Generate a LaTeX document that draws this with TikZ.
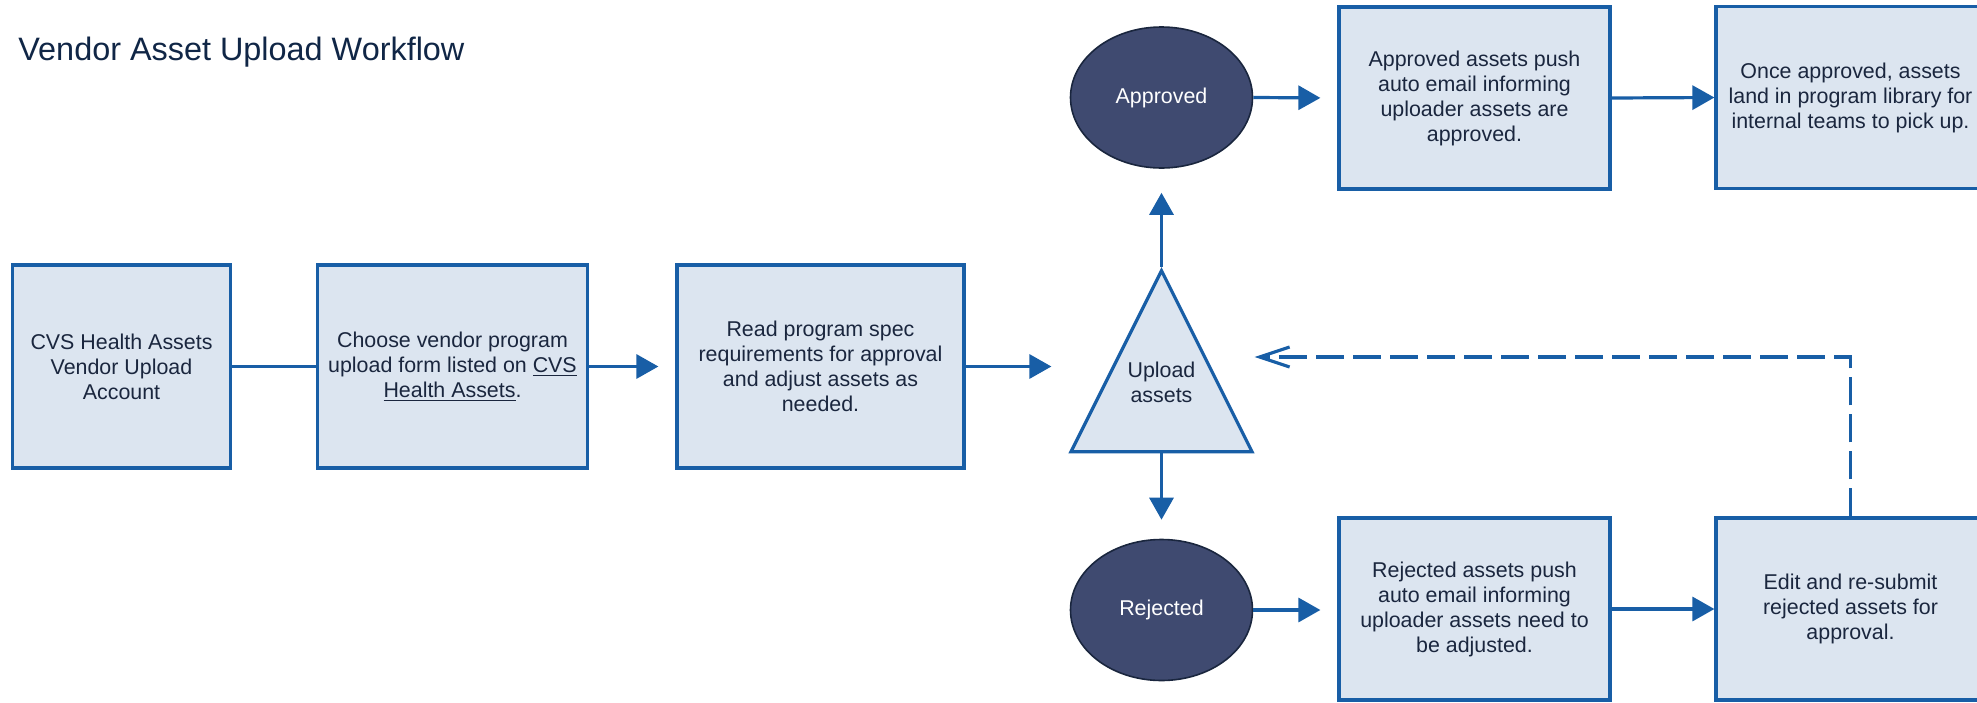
\documentclass[tikz,border=0pt]{standalone}
\usepackage{fontspec}
\setmainfont{Liberation Sans}
\usetikzlibrary{shapes.geometric,arrows.meta}

\definecolor{flowblue}{RGB}{24,94,166}
\definecolor{boxfill}{RGB}{220,229,240}
\definecolor{navyfill}{RGB}{63,74,112}
\definecolor{inktext}{RGB}{26,38,62}
\definecolor{titleink}{RGB}{16,38,70}

\begin{document}
\begin{tikzpicture}[x=0.5pt,y=-0.5pt,
		box/.style={draw=flowblue, fill=boxfill, line width=1.6pt, inner sep=0pt, align=center, text=inktext, font=\fontsize{10.7}{12.5}\selectfont},
		state/.style={ellipse, draw=inktext, fill=navyfill, line width=0.8pt, text=white, minimum width=91pt, minimum height=70.5pt, font=\fontsize{10.7}{12.5}\selectfont},
		tri/.style={isosceles triangle, isosceles triangle stretches, shape border rotate=90, minimum width=90.5pt, minimum height=90.5pt, inner sep=0pt, draw=flowblue, fill=boxfill, line width=1.6pt},
		flow/.style={draw=flowblue, line width=1.6pt, -{Triangle[length=11pt,width=12pt]}},
		gap/.style={shorten >=8.5pt},
		back/.style={draw=flowblue, line width=1.6pt, dash pattern=on 14pt off 4.5pt, -{Straight Barb[length=15pt,width=10pt]}}]
			\useasboundingbox (0,0) rectangle (1977,702);

			% title
			\node[anchor=base west, inner sep=0pt, text=titleink, font=\fontsize{16.2}{19}\selectfont] (title) at (18,60) {Vendor Asset Upload Workflow};

			% main row
			\node[box, minimum width=109pt, minimum height=101.5pt] (acct) at (121.5,366.5) {CVS Health Assets\\Vendor Upload\\Account};
			\node[box, minimum width=135pt, minimum height=101.5pt] (form) at (452.5,366.5) {Choose vendor program\\upload form listed on \underline{CVS}\\\underline{Health Assets}.};
			\node[box, minimum width=143.5pt, minimum height=101.5pt] (spec) at (820.5,366.5) {Read program spec\\requirements for approval\\and adjust assets as\\needed.};
			\node[tri, anchor=apex] (upload) at (1161.5,266.5) {};
			\node[inner sep=0pt, align=center, text=inktext, font=\fontsize{10.7}{12.5}\selectfont] (uploadtext) at (1161.5,382.5) {Upload\\assets};

			% approved branch
			\node[state] (approved) at (1161.5,97.5) {Approved};
			\node[box, minimum width=135.5pt, minimum height=91pt] (apmail) at (1474.5,98) {Approved assets push\\auto email informing\\uploader assets are\\approved.};
			\node[box, minimum width=134.5pt, minimum height=91pt] (library) at (1850.5,97.5) {Once approved, assets\\land in program library for\\internal teams to pick up.};

			% rejected branch
			\node[state] (rejected) at (1161.5,610) {Rejected};
			\node[box, minimum width=135.5pt, minimum height=91pt] (rjmail) at (1474.5,609) {Rejected assets push\\auto email informing\\uploader assets need to\\be adjusted.};
			\node[box, minimum width=134.5pt, minimum height=91pt] (edit) at (1850.5,609) {Edit and re-submit\\rejected assets for\\approval.};
			\coordinate (ret) at (1850.5,357);

			% connectors
			\draw[draw=flowblue, line width=1.6pt] (acct.east) -- (form.west);
			\draw[flow, gap] (form.east) -- (spec.west);
			\draw[flow, gap] (spec.east) -- (upload.left corner |- spec.east);
			\draw[flow, shorten >=12pt] (upload.apex) -- (approved.south);
			\draw[flow, shorten >=9.5pt] (upload.lower side) -- (rejected.north);
			\draw[flow, gap] (approved.east) -- (apmail.west);
			\draw[flow] (apmail.east) -- (library.west);
			\draw[flow, gap] (rejected.east) -- (rejected.east -| rjmail.west);
			\draw[flow] (rjmail.east) -- (edit.west);
			\draw[back] (edit.north) -- (ret) -- (upload.right corner |- ret);
		\end{tikzpicture}
\end{document}
